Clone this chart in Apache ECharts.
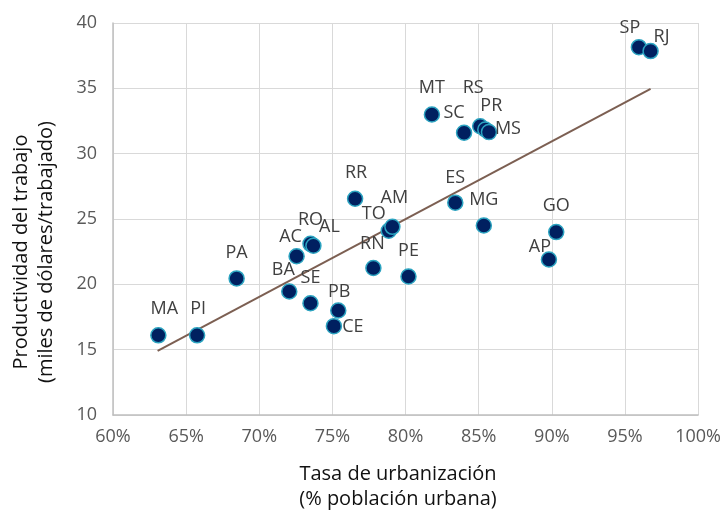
<!DOCTYPE html>
<html>
<head>
<meta charset="utf-8">
<script src="https://cdn.jsdelivr.net/npm/echarts@6/dist/echarts.min.js"></script>
<style>html,body{margin:0;padding:0;background:#fff}#c{width:724px;height:518px}</style>
</head>
<body>
<div id="c"></div>
<script>
const states = ['MA','PI','PA','BA','AC','RO','AL','SE','PB','CE','RR','TO','AM','RN','PE','ES','MG','MT','SC','RS','PR','MS','GO','AP','SP','RJ'];
const urbanRate = [63.1,65.75,68.45,72.05,72.55,73.5,73.7,73.5,75.4,75.1,76.55,78.85,79.1,77.8,80.2,83.4,85.35,81.8,84.0,85.1,85.45,85.7,90.3,89.8,95.95,96.75];
const productivity = [16.1,16.1,20.45,19.45,22.15,23.1,22.95,18.55,18.0,16.8,26.55,24.1,24.4,21.25,20.6,26.25,24.5,33.0,31.6,32.1,31.85,31.65,24.0,21.9,38.15,37.85];
const trendX = [63.05, 96.75];
const trendY = [14.9, 34.95];
const xTicks = [60,65,70,75,80,85,90,95,100];
const yTicks = [10,15,20,25,30,35,40];
const xTitle = 'Tasa de urbanización\n(% población urbana)';
const yTitle = 'Productividad del trabajo\n(miles de dólares/trabajado)';

// label placement (pixel offsets from marker centre)
const labelOffsets = {
  MA:[6,-26], PI:[1,-26], PA:[0,-26], BA:[-6,-22], AC:[-6,-19], RO:[0,-24], AL:[16,-19],
  SE:[0,-25], PB:[1,-19], CE:[19,1], RR:[1,-26], TO:[-15,-17], AM:[2,-29], RN:[-1,-24],
  PE:[0,-26], ES:[0,-25], MG:[0,-26], MT:[0,-27], SC:[-10,-20], RS:[-7,-38], PR:[6,-24],
  MS:[19,-3], GO:[0,-26], AP:[-9,-13], SP:[-9,-19], RJ:[11,-14]
};

const pts = states.map((s,i)=>({ name: s, value: [urbanRate[i], productivity[i]] }));
const tickFont = '"Open Sans"';

const chart = echarts.init(document.getElementById('c'), null, {renderer:'canvas'});
chart.setOption({
  animation: false,
  grid: { left: 113, right: 21, top: 23, bottom: 103 },
  graphic: [
    {
      type: 'text', x: 398, y: 487,
      style: { text: xTitle, fill: '#111', font: '20px "Open Sans"', align: 'center', verticalAlign: 'middle', lineHeight: 25 }
    },
    {
      type: 'text', x: 34, y: 252, rotation: Math.PI / 2,
      style: { text: yTitle, fill: '#111', font: '20px "Open Sans"', align: 'center', verticalAlign: 'middle', lineHeight: 25 }
    }
  ],
  xAxis: {
    type: 'value', min: xTicks[0], max: xTicks[xTicks.length-1], interval: 5,
    axisLine: { show: true, lineStyle: { color: '#bfbfbf', width: 1.5 } },
    axisTick: { show: false },
    splitLine: { show: true, lineStyle: { color: '#d9d9d9', width: 1 } },
    axisLabel: { formatter: '{value}%', color: '#595959', fontSize: 18, fontFamily: tickFont, margin: 13 }
  },
  yAxis: {
    type: 'value', min: yTicks[0], max: yTicks[yTicks.length-1], interval: 5,
    axisLine: { show: true, lineStyle: { color: '#bfbfbf', width: 1.5 } },
    axisTick: { show: false },
    splitLine: { show: true, lineStyle: { color: '#d9d9d9', width: 1 } },
    axisLabel: { color: '#595959', fontSize: 18, fontFamily: tickFont, margin: 16 }
  },
  series: [
    {
      type: 'line',
      data: trendX.map((x,i)=>[x, trendY[i]]),
      symbol: 'none',
      lineStyle: { color: '#7c5f52', width: 2 },
      z: 2
    },
    {
      type: 'scatter',
      data: pts,
      symbolSize: 15,
      itemStyle: { color: '#002060', borderColor: '#2ba3c0', borderWidth: 1.5, opacity: 1 },
      label: {
        show: true, position: 'inside', formatter: p => p.name,
        color: '#404040', fontSize: 18, fontFamily: 'Open Sans'
      },
      labelLayout: function (params) {
        const o = labelOffsets[states[params.dataIndex]] || [0, -26];
        return { dx: o[0], dy: o[1], hideOverlap: false };
      },
      z: 3
    }
  ]
});
</script>
</body>
</html>
